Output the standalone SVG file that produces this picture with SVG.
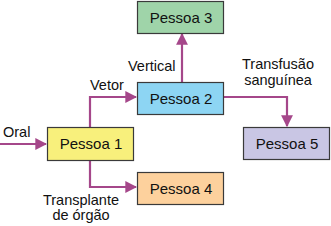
<svg xmlns="http://www.w3.org/2000/svg" width="331" height="226" viewBox="0 0 331 226">
<style>
.box{stroke:#3a3a3a;stroke-width:1.2}
.t{font-family:"Liberation Sans",Arial,sans-serif;font-size:14.5px;fill:#111}
.b{font-size:15px;text-anchor:middle}
.c{text-anchor:middle}
.e{fill:none;stroke:#a5478a;stroke-width:2.2}
</style>
<defs>
<marker id="ah" viewBox="0 0 10 10" refX="9" refY="5" markerWidth="5.4" markerHeight="5.4" orient="auto" markerUnits="strokeWidth">
<path d="M0,0 L10,5 L0,10 z" fill="#a5478a"/>
</marker>
</defs>
<g id="connectors">
<path class="e" d="M0,144 H46" marker-end="url(#ah)"/>
<path class="e" d="M90,127 V97 H136" marker-end="url(#ah)"/>
<path class="e" d="M90,160 V187 H136" marker-end="url(#ah)"/>
<path class="e" d="M182,82 V34" marker-end="url(#ah)"/>
<path class="e" d="M223,97 H287 V126" marker-end="url(#ah)"/>
</g>
<g id="labels">
<text class="t" x="3" y="137">Oral</text>
<text class="t" x="90" y="90">Vetor</text>
<text class="t" x="128" y="71">Vertical</text>
<text class="t c" x="278" y="69">Transfusão</text>
<text class="t c" x="278" y="85">sanguínea</text>
<text class="t c" x="81" y="205">Transplante</text>
<text class="t c" x="81" y="220">de órgão</text>
</g>
<g id="pessoa3"><rect class="box" x="137.5" y="1.5" width="86" height="32" fill="#9fd4a9"/><text class="t b" x="181" y="23">Pessoa 3</text></g>
<g id="pessoa2"><rect class="box" x="137.5" y="82.5" width="86" height="32" fill="#8dd5f3"/><text class="t b" x="181" y="104">Pessoa 2</text></g>
<g id="pessoa1"><rect class="box" x="47.5" y="127.5" width="86" height="33" fill="#f8f07c"/><text class="t b" x="91" y="149">Pessoa 1</text></g>
<g id="pessoa4"><rect class="box" x="137.5" y="172.5" width="86" height="32" fill="#fdd19d"/><text class="t b" x="181" y="194">Pessoa 4</text></g>
<g id="pessoa5"><rect class="box" x="243.5" y="127.5" width="86" height="32" fill="#c9c6e4"/><text class="t b" x="287" y="149">Pessoa 5</text></g>
</svg>
